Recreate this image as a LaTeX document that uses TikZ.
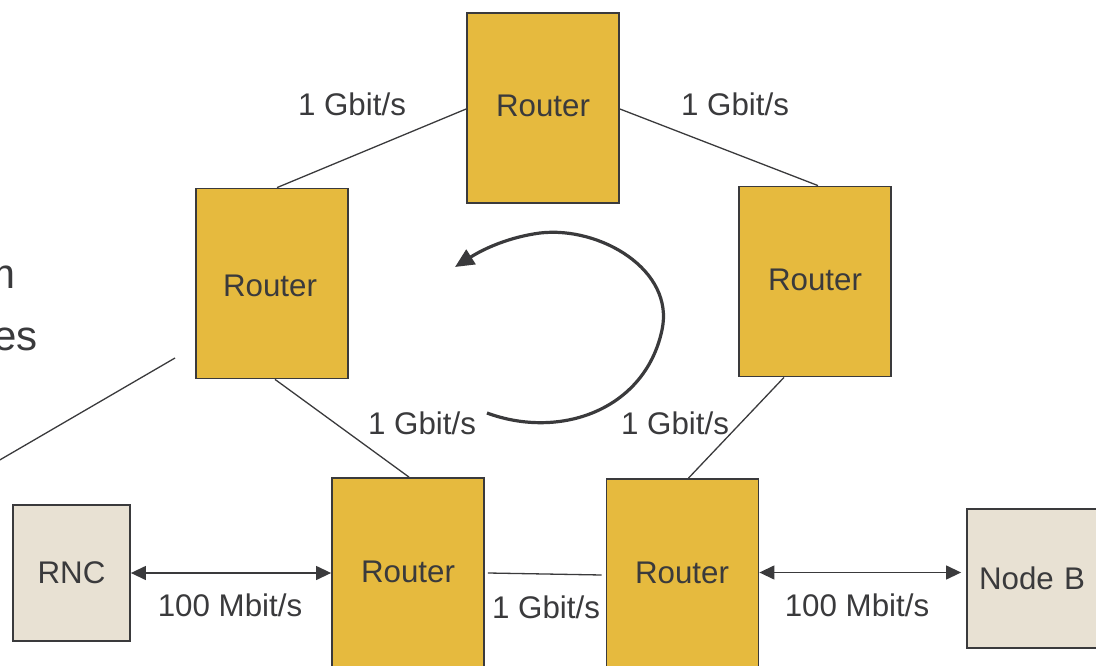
\documentclass[tikz,border=0pt]{standalone}
\usepackage{fontspec}
\setmainfont{Liberation Sans}
\usetikzlibrary{arrows.meta,calc}
\definecolor{gold}{HTML}{E6BA3E}
\definecolor{beige}{HTML}{E8E1D3}
\definecolor{ink}{HTML}{3A3A3C}
\begin{document}
\begin{tikzpicture}[x=1pt,y=-1pt,
  every node/.style={text=ink,font=\fontsize{31.3}{37}\selectfont},
  box/.style={draw=ink,line width=1.8pt,inner sep=0pt},
  router/.style={box,fill=gold,minimum width=152pt,minimum height=190pt},
  endbox/.style={box,fill=beige},
  link/.style={draw=ink,line width=1.3pt},
  dbl/.style={link,{Triangle[length=15pt,width=14pt]}-{Triangle[length=15pt,width=14pt]}},
  lbl/.style={inner sep=0pt}]
\useasboundingbox (0,0) rectangle (1096,666);
% routers
\node[router] (top) at (543,108) {};
\node[lbl] (ttop) at (543,106) {Router};
\node[router] (left) at (272,283.5) {};
\node[lbl] (tleft) at (270,286) {Router};
\node[router] (right) at (815,281.5) {};
\node[lbl] (tright) at (815,280) {Router};
\node[router,minimum height=200pt] (bl) at (408,578) {};
\node[lbl] (tbl) at (408,572) {Router};
\node[router,minimum height=200pt] (br) at (682.5,579) {};
\node[lbl] (tbr) at (682,573) {Router};
% end boxes
\node[endbox,minimum width=117pt,minimum height=136pt] (rnc) at (71.5,573) {RNC};
\node[endbox,minimum width=134pt,minimum height=139pt,text width=130pt,align=left] (nodeb) at (1034,578.5) {\hspace*{10pt}Node B};
% links
\draw[link] ($(top.west)+(0,1)$) -- ($(left.north)+(5,0)$);
\draw[link] ($(top.east)+(0,1)$) -- ($(right.north)+(3,0)$);
\draw[link] ($(left.south)+(3,0)$) -- ($(bl.north)+(1,0)$);
\draw[link] ($(right.south)+(-31,0)$) -- ($(br.north)+(6,0)$);
\draw[link] ($(bl.east)+(3,-5)$) -- ($(br.west)+(-4,-4)$);
\draw[dbl] (rnc.east) -- (bl.west |- rnc.east);
\draw[dbl] ($(br.east |- nodeb.west)+(0,-6)$) -- ($(nodeb.west)+(-5,-6)$);
% stray line
\coordinate (s1) at (175,358);
\coordinate (s2) at (-2,461);
\draw[link] (s1) -- (s2);
% curved arrow
\coordinate (c0) at (487,413);
\coordinate (c1) at (662,330);
\coordinate (c2) at (540,233);
\coordinate (c3) at (455,267);
\draw[draw=ink,line width=3.2pt,-{Triangle[length=19pt,width=17pt]}]
  (c0) .. controls (560,440) and (645,410) .. (c1)
       .. controls (675,270) and (600,226) .. (c2)
       .. controls (510,237) and (485,248) .. (c3);
% labels
\node[lbl] (g1) at (352,104) {1 Gbit/s};
\node[lbl] (g2) at (735,104) {1 Gbit/s};
\node[lbl] (g3) at (422,423) {1 Gbit/s};
\node[lbl] (g4) at (675,423) {1 Gbit/s};
\node[lbl] (g5) at (546,607) {1 Gbit/s};
\node[lbl] (m1) at (230,605) {100 Mbit/s};
\node[lbl] (m2) at (857,605) {100 Mbit/s};
% cut-off text on the left
\node[lbl,anchor=base east,font=\fontsize{42}{48}\selectfont] (f1) at (16,288) {m};
\node[lbl,anchor=base east,font=\fontsize{42}{48}\selectfont] (f2) at (38,350) {es};
\end{tikzpicture}
\end{document}
